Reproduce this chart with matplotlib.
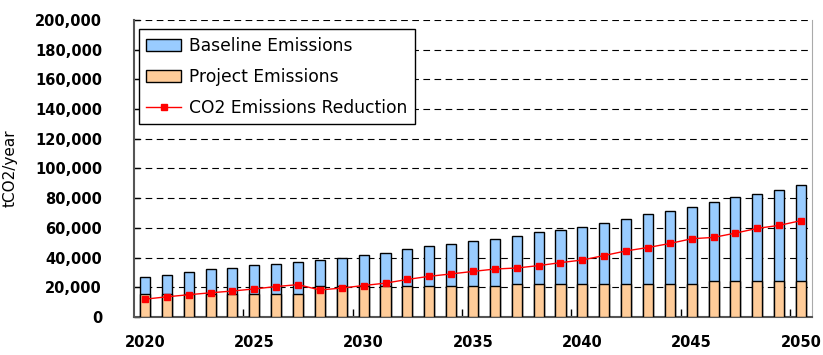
import numpy as np
import matplotlib.pyplot as plt
from matplotlib.ticker import FuncFormatter, MultipleLocator

years = list(range(2020, 2051))

# tCO2/year
baseline = [27100, 28500, 30100, 32000, 33300, 34700, 35400, 37000, 38600, 40000,
            41600, 43200, 45800, 47800, 49400, 51400, 52400, 54500, 57000, 58500,
            60600, 63100, 66000, 69200, 71400, 74400, 77500, 80500, 82900, 85700,
            88800]
project = [15400] * 8 + [20900] * 9 + [21900] * 9 + [24200] * 5
reduction = [12000, 13600, 15000, 16300, 17500, 18900, 20500, 21800, 18200, 19500,
             21200, 22800, 25300, 27400, 29000, 30700, 32300, 33000, 34600, 36600,
             38400, 41400, 44500, 46800, 49500, 52700, 53600, 56500, 59700, 61700,
             64900]

plt.rcParams['font.family'] = ['DejaVu Sans']

fig = plt.figure(figsize=(8.23, 3.55), dpi=100)
ax = fig.add_axes([134 / 823, 1 - 317 / 355, (812 - 134) / 823, (317 - 20) / 355])

x = np.arange(len(years))
b1 = ax.bar(x, baseline, width=0.46, color='#99CCFF', edgecolor='black', linewidth=1,
            label='Baseline Emissions', zorder=3)
b2 = ax.bar(x, project, width=0.46, color='#FFCC99', edgecolor='black', linewidth=1,
            label='Project Emissions', zorder=4)
l1, = ax.plot(x, reduction, color='#FF0000', linewidth=1, marker='s', markersize=5,
              label='CO2 Emissions Reduction', zorder=5)

ax.set_ylim(0, 200000)
ax.set_xlim(-0.5, len(years) - 0.5)
ax.yaxis.set_major_locator(MultipleLocator(20000))
ax.yaxis.set_major_formatter(FuncFormatter(lambda v, p: f'{int(v):,}'))
ax.yaxis.grid(True, linestyle=(0, (6, 4)), color='black', linewidth=0.8, zorder=0)

label_pos = [i for i, y in enumerate(years) if y % 5 == 0]
ax.set_xticks(label_pos)
ax.set_xticklabels([str(years[i]) for i in label_pos])
ax.tick_params(axis='x', length=0, pad=13)
ax.set_xticks([i - 0.5 for i in label_pos[1:]], minor=True)
ax.tick_params(axis='x', which='minor', length=6, width=1, direction='in')
ax.tick_params(axis='y', length=4, direction='in', width=1, pad=23)

for lab in ax.get_xticklabels() + ax.get_yticklabels():
    lab.set_fontsize(10.5)
    lab.set_fontweight('bold')

ax.set_ylabel('tCO2/year', fontsize=11)
ax.yaxis.set_label_coords(-0.171, 0.5)

for s in ['left', 'bottom']:
    ax.spines[s].set_color('#555555')
    ax.spines[s].set_linewidth(1.5)
ax.spines['right'].set_color('#aaaaaa')
ax.spines['top'].set_visible(False)

leg = ax.legend([b1, b2, l1], ['Baseline Emissions', 'Project Emissions', 'CO2 Emissions Reduction'],
                loc='upper left', bbox_to_anchor=(0.002, 0.98), fontsize=12.3,
                frameon=True, fancybox=False, edgecolor='black', framealpha=1,
                borderpad=0.45, labelspacing=0.75, handlelength=2.0, handletextpad=0.5,
                borderaxespad=0.2)
leg.get_frame().set_linewidth(1)

fig.savefig('out.png', dpi=100)
